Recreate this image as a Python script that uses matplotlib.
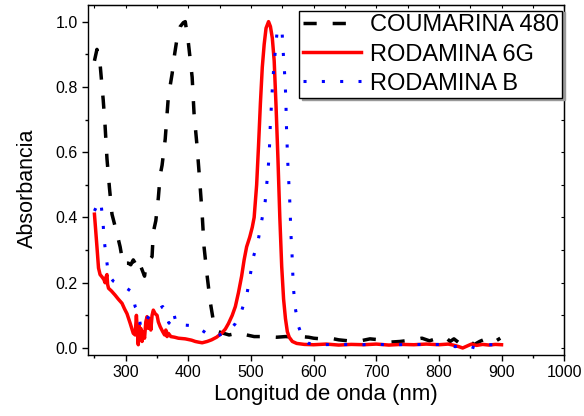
import numpy as np
import matplotlib
matplotlib.use("Agg")
import matplotlib.pyplot as plt
from matplotlib.ticker import MultipleLocator

plt.rcParams['font.family'] = ['Liberation Sans', 'DejaVu Sans']

# ---- data (wavelength nm, absorbance) ----
coum_wl = [250, 254, 259, 264, 267, 270, 274, 278, 286, 291, 296, 300, 304, 308, 312, 315,
           318, 321, 323, 326, 330, 332, 336, 340, 342, 344, 348, 352, 355, 358, 363, 368,
           374, 378, 382, 387, 392, 395, 400, 406, 409, 414, 418, 422, 425, 430, 435, 441,
           448, 456, 465, 477, 485, 493, 505, 515, 525, 541, 555, 565, 579, 592, 600, 612,
           627, 640, 655, 675, 690, 706, 722, 738, 755, 773, 785, 798, 810, 818, 824, 832,
           840, 848, 856, 865, 877, 888, 898]
coum_abs = [0.88, 0.915, 0.87, 0.76, 0.68, 0.58, 0.49, 0.41, 0.35, 0.31, 0.255, 0.26, 0.26, 0.255, 0.27, 0.26,
            0.245, 0.26, 0.255, 0.24, 0.22, 0.25, 0.26, 0.275, 0.28, 0.355, 0.39, 0.46, 0.53, 0.56, 0.64, 0.77,
            0.84, 0.90, 0.95, 0.985, 0.997, 1.0, 0.935, 0.83, 0.72, 0.615, 0.515, 0.41, 0.31, 0.22, 0.14, 0.07,
            0.05, 0.045, 0.04, 0.045, 0.047, 0.04, 0.035, 0.035, 0.035, 0.033, 0.035, 0.034, 0.035, 0.033, 0.03, 0.028,
            0.03, 0.025, 0.022, 0.022, 0.028, 0.025, 0.018, 0.02, 0.024, 0.03, 0.022, 0.03, 0.034, 0.02, 0.028, 0.016,
            0.015, 0.025, 0.01, 0.02, 0.03, 0.018, 0.03]

r6g_wl = [250, 252, 254, 256.5, 259, 262, 265, 267, 268, 270, 271, 272.5, 277, 283, 288, 294,
          298, 302, 307, 312, 315, 317, 318.5, 320, 321, 322, 324, 326, 328, 330, 332, 334,
          336, 338, 340, 342, 344, 347, 350, 352, 355, 359, 362, 364, 366, 368, 372, 378,
          384, 395, 405, 411, 416, 422, 430, 437, 445, 453, 459, 464, 470, 475, 480, 485,
          489, 493, 498, 502, 505, 509, 512, 515, 518, 521, 524, 528, 531, 534, 537, 540,
          543, 546, 549, 552, 555, 558, 561, 566, 573, 585, 600, 620, 640, 660, 680, 700,
          720, 740, 760, 780, 800, 815, 825, 832, 838, 845, 852, 860, 870, 880, 890, 900]
r6g_abs = [0.41, 0.36, 0.31, 0.245, 0.225, 0.218, 0.21, 0.2, 0.215, 0.225, 0.195, 0.183, 0.175, 0.162, 0.15, 0.137,
           0.12, 0.105, 0.076, 0.045, 0.04, 0.1, 0.05, 0.01, 0.07, 0.03, 0.06, 0.02, 0.05, 0.03, 0.08, 0.096,
           0.06, 0.09, 0.055, 0.1, 0.116, 0.105, 0.1, 0.08, 0.065, 0.05, 0.04, 0.055, 0.035, 0.045, 0.035, 0.033,
           0.03, 0.028, 0.024, 0.02, 0.018, 0.016, 0.02, 0.025, 0.033, 0.045, 0.058, 0.075, 0.1, 0.127, 0.17, 0.22,
           0.27, 0.31, 0.34, 0.37, 0.40, 0.50, 0.62, 0.75, 0.86, 0.93, 0.98, 1.0, 0.985, 0.95, 0.88, 0.74,
           0.58, 0.40, 0.25, 0.15, 0.09, 0.05, 0.033, 0.02, 0.014, 0.011, 0.01, 0.012, 0.009, 0.011, 0.01, 0.012,
           0.009, 0.011, 0.01, 0.012, 0.01, 0.012, 0.008, 0.004, 0.0, 0.006, 0.012, 0.008, 0.011, 0.009, 0.011, 0.01]

rb_wl = [250, 255, 260, 263.5, 265.6, 268.7, 272.5, 280, 291, 300, 309.8, 315, 320.4, 324, 331, 339,
         347, 353, 359, 365, 369, 373, 376, 380, 382, 395, 411, 425, 437, 450, 466, 475,
         484, 493.5, 498.8, 504, 512, 518, 522.7, 525.5, 528, 529.6, 530.7, 532.3, 534, 536,
         538.7, 541.4, 545, 549.4, 551, 553, 554.7, 555.8, 556.3, 557.4, 558.4, 560, 561.6, 562.7,
         563.7, 565.4, 566.5, 568, 570.7, 576, 583, 592, 610, 640, 670, 700, 730, 760, 790, 810,
         826, 840, 858, 875, 900]
rb_abs = [0.42, 0.44, 0.45, 0.39, 0.33, 0.28, 0.224, 0.205, 0.193, 0.185, 0.172, 0.127, 0.111, 0.06, 0.076, 0.106,
          0.111, 0.12, 0.127, 0.10, 0.076, 0.1, 0.111, 0.08, 0.07, 0.07, 0.068, 0.05, 0.033, 0.04, 0.053, 0.075,
          0.108, 0.165, 0.224, 0.28, 0.336, 0.40, 0.45, 0.51, 0.566, 0.62, 0.678, 0.734, 0.793, 0.85,
          0.908, 0.964, 0.98, 0.977, 0.918, 0.862, 0.806, 0.75, 0.694, 0.637, 0.58, 0.52, 0.464, 0.408,
          0.35, 0.293, 0.235, 0.178, 0.122, 0.065, 0.03, 0.014, 0.01, 0.011, 0.01, 0.011, 0.01, 0.011, 0.01, 0.012,
          0.004, 0.01, 0.0, 0.01, 0.01]

# ---- figure ----
fig = plt.figure(figsize=(5.84, 4.16), dpi=100)
ax = fig.add_axes([0.151, 0.147, 0.815, 0.841])

ax.plot(coum_wl, coum_abs, color='black', lw=2.5, linestyle=(0, (3.8, 4.6)), label='COUMARINA 480')
ax.plot(r6g_wl, r6g_abs, color='red', lw=2.5, label='RODAMINA 6G')
ax.plot(rb_wl, rb_abs, color='blue', lw=2.2, linestyle=(0, (1.0, 5.0)), label='RODAMINA B')

ax.set_xlim(240, 1000)
ax.set_ylim(-0.021, 1.051)
ax.xaxis.set_major_locator(MultipleLocator(100))
ax.xaxis.set_minor_locator(MultipleLocator(50))
ax.yaxis.set_major_locator(MultipleLocator(0.2))
ax.yaxis.set_minor_locator(MultipleLocator(0.1))
ax.yaxis.set_major_formatter(matplotlib.ticker.FormatStrFormatter('%.1f'))

ax.tick_params(which='major', direction='out', length=4, width=1, labelsize=11.5)
ax.tick_params(which='minor', direction='out', length=2.5, width=1)
for sp in ax.spines.values():
    sp.set_linewidth(1.0)

# inward ticks on top and right like the original software
top = ax.secondary_xaxis('top')
top.xaxis.set_major_locator(MultipleLocator(100))
top.xaxis.set_minor_locator(MultipleLocator(50))
top.tick_params(which='both', direction='in', labeltop=False, length=2.5, width=0.8)
right = ax.secondary_yaxis('right')
right.yaxis.set_major_locator(MultipleLocator(0.2))
right.yaxis.set_minor_locator(MultipleLocator(0.1))
right.tick_params(which='both', direction='in', labelright=False, length=2.5, width=0.8)

ax.set_xlabel('Longitud de onda (nm)', fontsize=16, labelpad=3)
ax.set_ylabel('Absorbancia', fontsize=15.5)
ax.yaxis.set_label_coords(-0.106, 0.477)

leg = ax.legend(loc='upper right', bbox_to_anchor=(0.9958, 0.983), fontsize=17, frameon=True,
                fancybox=False, edgecolor='black', framealpha=1, borderaxespad=0,
                handlelength=2.45, handletextpad=0.38, labelspacing=0.3, borderpad=0.15,
                shadow={'ox': 2, 'oy': -1, 'color': '0.6', 'alpha': 1})
leg.get_frame().set_linewidth(1.0)

fig.savefig('out.png', dpi=100)
